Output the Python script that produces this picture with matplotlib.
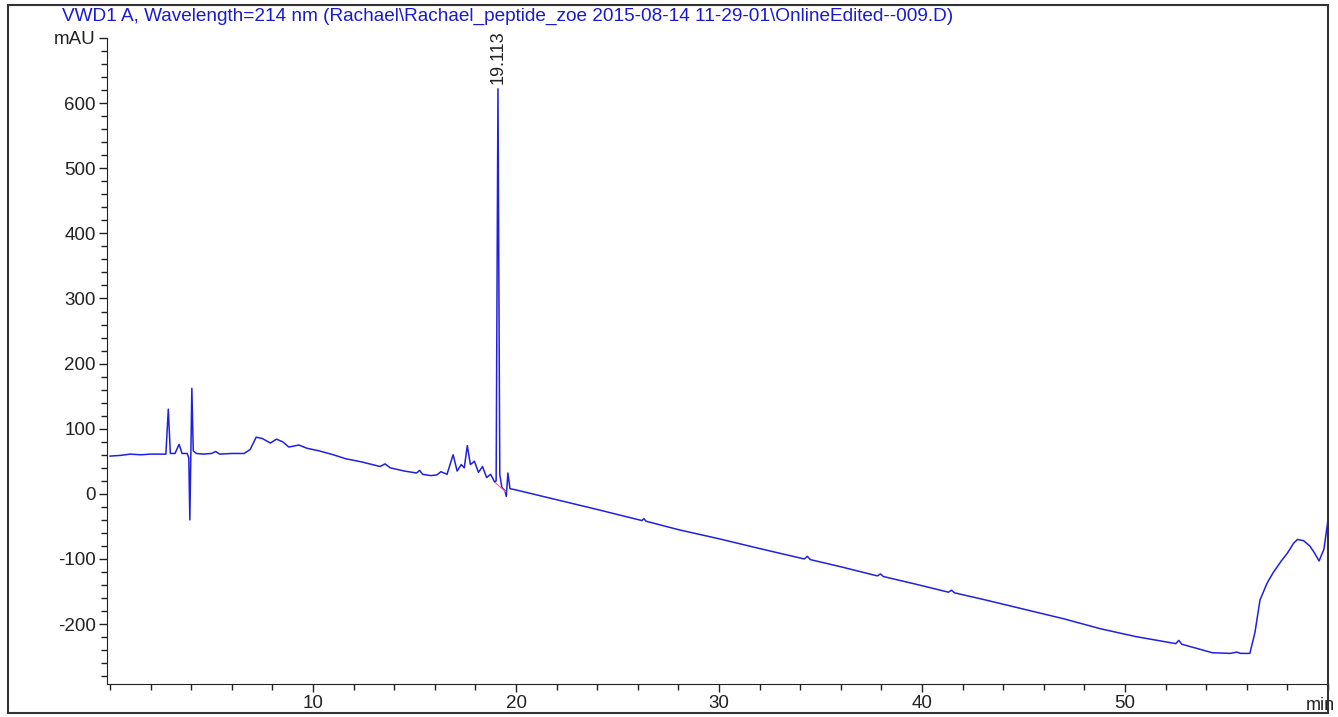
import matplotlib.pyplot as plt
from matplotlib.patches import Rectangle
from matplotlib.ticker import MultipleLocator

plt.rcParams['font.family'] = ['Liberation Sans', 'DejaVu Sans']

# chromatogram points (min, mAU)
time_min = [0, 0.5, 1.0, 1.5, 2.0, 2.5, 2.75, 2.87, 2.97, 3.2, 3.4, 3.55, 3.8,
            3.88, 3.93, 3.98, 4.03, 4.1, 4.25, 4.6, 5.0, 5.2, 5.4, 6.0, 6.6,
            6.9, 7.2, 7.5, 7.9, 8.2, 8.5, 8.8, 9.0, 9.3, 9.7, 10.3, 11.0, 11.6,
            12.4, 13.3, 13.55, 13.8, 14.5, 15.1, 15.25, 15.4, 15.8, 16.1, 16.3,
            16.6, 16.9, 17.1, 17.3, 17.45, 17.6, 17.75, 17.95, 18.15, 18.35,
            18.55, 18.75, 18.95, 19.02, 19.11, 19.2, 19.3, 19.45, 19.52, 19.6,
            19.7, 20.0, 22.0, 24.0, 26.2, 26.3, 26.4, 28.0, 30.0, 32.0, 34.2,
            34.35, 34.5, 36.0, 37.8, 37.95, 38.1, 40.0, 41.3, 41.45, 41.6, 43.0,
            45.0, 47.0, 48.77, 50.5, 52.5, 52.65, 52.8, 53.5, 54.3, 55.2, 55.5,
            55.7, 56.15, 56.4, 56.65, 57.0, 57.3, 57.7, 58.0, 58.3, 58.5, 58.8,
            59.1, 59.3, 59.56, 59.8, 60.0]
signal_mau = [58, 59, 61, 60, 61, 61, 61, 130, 62, 62, 76, 62, 62,
              55, -40, 60, 162, 66, 62, 61, 62, 65, 61, 62, 62,
              68, 87, 85, 78, 84, 80, 72, 73, 75, 70, 66, 60, 54,
              49, 42, 46, 40, 35, 32, 36, 30, 28, 29, 34,
              30, 60, 35, 45, 40, 74, 45, 50, 33, 42,
              25, 30, 18, 20, 622, 30, 10, 5, -4, 32,
              8, 6, -9, -24, -41, -38, -42, -55, -69, -84, -100,
              -96, -101, -112, -126, -123, -127, -141, -151, -148, -152, -162,
              -177, -192, -207, -219, -230, -225, -231, -237, -244, -245, -243,
              -245, -245, -213, -163, -137, -121, -103, -91, -76, -70, -72,
              -80, -89, -103, -85, -40]

peak_rt = 19.113
peak_height = 622
title = ('VWD1 A, Wavelength=214 nm (Rachael\\Rachael_peptide_zoe '
         '2015-08-14 11-29-01\\OnlineEdited--009.D)')

fig = plt.figure(figsize=(13.38, 7.17), dpi=100)
ax = fig.add_axes([107 / 1338, 1 - 684 / 717, (1328 - 107) / 1338, (684 - 38) / 717])

ax.plot(time_min, signal_mau, color='#2020e0', lw=1.1)
# integration baseline under the main peak
ax.plot([18.98, 19.5], [17, 3], color='#ff60a0', lw=0.8)

ax.set_xlim(-0.15, 60)
ax.set_ylim(-292, 700)

ax.xaxis.set_minor_locator(MultipleLocator(2))
ax.yaxis.set_minor_locator(MultipleLocator(20))
ax.set_xticks([10, 20, 30, 40, 50])
ax.set_yticks([-200, -100, 0, 100, 200, 300, 400, 500, 600, 700])
ax.set_yticklabels(['-200', '-100', '0', '100', '200', '300', '400', '500', '600', 'mAU'])
ax.tick_params(which='major', length=6, width=1, labelsize=13.5, colors='#222222', pad=2)
ax.tick_params(which='minor', length=4, width=1, colors='#222222')

for side in ['top', 'right']:
    ax.spines[side].set_visible(False)
ax.spines['left'].set_color('#222222')
ax.spines['bottom'].set_color('#222222')

ax.text(peak_rt, peak_height + 8, '%.3f' % peak_rt, rotation=90, ha='center',
        va='bottom', fontsize=13, color='#222222')

fig.text(1306 / 1338, 1 - 706 / 717, 'min', fontsize=13, color='#222222',
         ha='left', va='center')
fig.text(62 / 1338, 1 - 16 / 717, title, fontsize=13.7, color='#1a1ad0',
         ha='left', va='center')

# outer frame
fig.patches.append(Rectangle((8 / 1338, 1 - 713 / 717), (1328 - 8) / 1338,
                             (713 - 5) / 717, transform=fig.transFigure,
                             fill=False, edgecolor='#333333', lw=1.5))

fig.savefig('out.png', dpi=100)
